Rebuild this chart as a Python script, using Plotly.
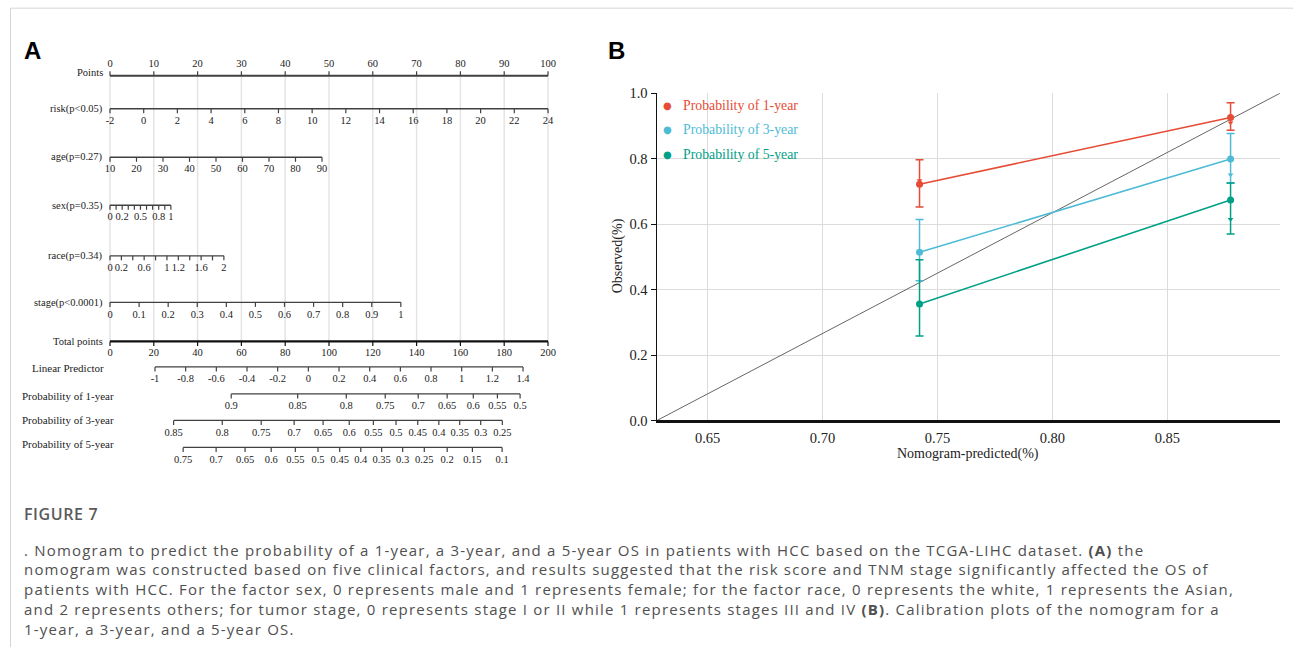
import math
import plotly.graph_objects as go

W, H = 1293, 655

# ---------------- Panel A: nomogram scales (values) ----------------
points_ticks = [0, 10, 20, 30, 40, 50, 60, 70, 80, 90, 100]
risk_ticks = [-2, 0, 2, 4, 6, 8, 10, 12, 14, 16, 18, 20, 22, 24]
age_ticks = [10, 20, 30, 40, 50, 60, 70, 80, 90]
sex_ticks = [0, 0.1, 0.2, 0.3, 0.4, 0.5, 0.6, 0.7, 0.8, 0.9, 1]
sex_labels = [0, 0.2, 0.5, 0.8, 1]
race_ticks = [0, 0.2, 0.4, 0.6, 0.8, 1, 1.2, 1.4, 1.6, 1.8, 2]
race_labels = [0, 0.2, 0.6, 1, 1.2, 1.6, 2]
stage_ticks = [0, 0.1, 0.2, 0.3, 0.4, 0.5, 0.6, 0.7, 0.8, 0.9, 1]
stage_labels = [0, 0.1, 0.2, 0.3, 0.4, 0.5, 0.6, 0.7, 0.8, 0.9, 1]
total_ticks = [0, 20, 40, 60, 80, 100, 120, 140, 160, 180, 200]
lp_ticks = [-1, -0.8, -0.6, -0.4, -0.2, 0, 0.2, 0.4, 0.6, 0.8, 1, 1.2, 1.4]
surv1_ticks = [0.9, 0.85, 0.8, 0.75, 0.7, 0.65, 0.6, 0.55, 0.5]
surv3_ticks = [0.85, 0.8, 0.75, 0.7, 0.65, 0.6, 0.55, 0.5, 0.45, 0.4, 0.35, 0.3, 0.25]
surv5_ticks = [0.75, 0.7, 0.65, 0.6, 0.55, 0.5, 0.45, 0.4, 0.35, 0.3, 0.25, 0.2, 0.15, 0.1]

variable_names = ["risk(p<0.05)", "age(p=0.27)", "sex(p=0.35)", "race(p=0.34)", "stage(p<0.0001)"]
variable_max_points = [100, 48.4, 13.9, 26.0, 66.4]
total_points_at_lp_minus1 = 20.55
total_points_per_lp = 70.02
baseline_surv = [0.8401, 0.6762, 0.5216]   # 1-, 3-, 5-year
surv_names = ["Probability of 1-year", "Probability of 3-year", "Probability of 5-year"]

# ---------------- Panel B: calibration data ----------------
nomo_pred = [0.7422, 0.8775]
obs_1y = [0.722, 0.926]
low_1y = [0.652, 0.887]
high_1y = [0.797, 0.971]
obs_3y = [0.514, 0.799]
low_3y = [0.427, 0.726]
high_3y = [0.614, 0.877]
obs_5y = [0.356, 0.674]
low_5y = [0.258, 0.570]
high_5y = [0.491, 0.726]
corr_1y = [0.733, 0.910]
corr_3y = [None, 0.751]
corr_5y = [None, 0.615]

caption_lines = [
    ". Nomogram to predict the probability of a 1-year, a 3-year, and a 5-year OS in patients with HCC based on the TCGA-LIHC dataset. <b>(A)</b> the",
    "nomogram was constructed based on five clinical factors, and results suggested that the risk score and TNM stage significantly affected the OS of",
    "patients with HCC. For the factor sex, 0 represents male and 1 represents female; for the factor race, 0 represents the white, 1 represents the Asian,",
    "and 2 represents others; for tumor stage, 0 represents stage I or II while 1 represents stages III and IV <b>(B)</b>. Calibration plots of the nomogram for a",
    "1-year, a 3-year, and a 5-year OS.",
]

# ---------------- layout helpers ----------------
PX_P0, PX_P100 = 110.0, 548.0          # pixel of 0 and 100 points
PPX = (PX_P100 - PX_P0) / 100.0
Y_OFF, Y_SCALE = 7.8, 0.975            # vertical compensation of the capture
SERIF = "Liberation Serif, Times New Roman, serif"
RED, CYAN, GREEN = "#E64B35", "#4DBBD5", "#00A087"


def px(x):
    return x / W


def py(y):
    return 1 - ((y - Y_OFF) / Y_SCALE) / H


def fmt(v):
    return ("%g" % round(v, 3))


def var_points(i, ticks):
    lo, hi = ticks[0], ticks[-1]
    return lambda v: (v - lo) / (hi - lo) * variable_max_points[i]


def lp_points(lp):
    return (total_points_at_lp_minus1 + (lp + 1) * total_points_per_lp) / 2.0


def surv_points(k):
    s0 = baseline_surv[k]
    return lambda p: lp_points(math.log(math.log(p) / math.log(s0)))


fig = go.Figure()

# vertical guide lines
gx, gy = [], []
for t in points_ticks:
    gx += [t, t, None]
    gy += [75, 341, None]
fig.add_trace(go.Scatter(x=gx, y=gy, mode="lines", line=dict(color="#e4e4e4", width=1.5),
                         hoverinfo="skip", showlegend=False, xaxis="x", yaxis="y"))

rows = []
rows.append((points_ticks, points_ticks, lambda v: v, 75.5, -1, -11.5, 1.8, "#404040"))
row_y = [108.5, 157, 205, 255.5, 302]
ticks_list = [risk_ticks, age_ticks, sex_ticks, race_ticks, stage_ticks]
labels_list = [risk_ticks, age_ticks, sex_labels, race_labels, stage_labels]
for i in range(5):
    rows.append((ticks_list[i], labels_list[i], var_points(i, ticks_list[i]), row_y[i], 1, 12.5, 1.4, "#404040"))
rows.append((total_ticks, total_ticks, lambda v: v / 2.0, 341, 1, 11.5, 2.2, "#111111"))
rows.append((lp_ticks, lp_ticks, lp_points, 366.5, 1, 12.5, 1.3, "#404040"))
surv_y = [393.5, 420, 447]
for k, tk in enumerate([surv1_ticks, surv3_ticks, surv5_ticks]):
    rows.append((tk, tk, surv_points(k), surv_y[k], 1, 12.5, 1.3, "#404040"))

for ticks, labels, f, y0, d, dy, lw, col in rows:
    xs = [f(v) for v in ticks]
    fig.add_trace(go.Scatter(x=[min(xs), max(xs)], y=[y0, y0], mode="lines", line=dict(color=col, width=lw),
                             hoverinfo="skip", showlegend=False, xaxis="x", yaxis="y"))
    tx, ty = [], []
    for x in xs:
        tx += [x, x, None]
        ty += [y0, y0 + d * 4.5, None]
    fig.add_trace(go.Scatter(x=tx, y=ty, mode="lines", line=dict(color=col, width=1.2),
                             hoverinfo="skip", showlegend=False, xaxis="x", yaxis="y"))
    fig.add_trace(go.Scatter(x=[f(v) for v in labels], y=[y0 + dy] * len(labels), mode="text",
                             text=[fmt(v) for v in labels],
                             textfont=dict(family=SERIF, size=10.5, color="#222"),
                             hoverinfo="skip", showlegend=False, xaxis="x", yaxis="y"))

annotations = []
top_names = ["Points"] + variable_names + ["Total points"]
top_name_y = [72, 108.5, 157, 206, 256, 303, 341]
for name, y in zip(top_names, top_name_y):
    annotations.append(dict(x=px(105), y=py(y), xref="paper", yref="paper", text=name, showarrow=False,
                            xanchor="right", yanchor="middle", font=dict(family=SERIF, size=10.5, color="#222")))
bot_names = ["Linear Predictor"] + surv_names
bot_name_y = [368, 396, 420, 444]
for name, y in zip(bot_names, bot_name_y):
    annotations.append(dict(x=px(68), y=py(y), xref="paper", yref="paper", text=name, showarrow=False,
                            xanchor="center", yanchor="middle", font=dict(family=SERIF, size=11, color="#222")))

# ---------------- Panel B traces ----------------
XMIN, XMAX = 0.628, 0.899
fig.add_trace(go.Scatter(x=[XMIN, XMAX], y=[0, 1], mode="lines", line=dict(color="#666", width=1),
                         hoverinfo="skip", showlegend=False, xaxis="x2", yaxis="y2"))
for obs, lo, hi, cor, col in [(obs_1y, low_1y, high_1y, corr_1y, RED),
                              (obs_3y, low_3y, high_3y, corr_3y, CYAN),
                              (obs_5y, low_5y, high_5y, corr_5y, GREEN)]:
    fig.add_trace(go.Scatter(
        x=nomo_pred, y=obs, mode="lines+markers",
        line=dict(color=col, width=1.6), marker=dict(color=col, size=7),
        error_y=dict(type="data", symmetric=False,
                     array=[h - o for h, o in zip(hi, obs)],
                     arrayminus=[o - l for o, l in zip(obs, lo)],
                     color=col, thickness=1.5, width=4),
        showlegend=False, xaxis="x2", yaxis="y2"))
    fig.add_trace(go.Scatter(x=nomo_pred, y=cor, mode="markers",
                             marker=dict(color=col, size=5, symbol="triangle-down"),
                             showlegend=False, xaxis="x2", yaxis="y2"))

# legend (manual, coloured text)
leg_y = [105, 129.5, 154]
for name, col, y in zip(surv_names, [RED, CYAN, GREEN], leg_y):
    annotations.append(dict(x=px(667), y=py(y), xref="paper", yref="paper", text="●", showarrow=False,
                            xanchor="center", yanchor="middle",
                            font=dict(family="DejaVu Sans", size=10, color=col)))
    annotations.append(dict(x=px(681), y=py(y), xref="paper", yref="paper", text=name, showarrow=False,
                            xanchor="left", yanchor="middle", font=dict(family=SERIF, size=13.8, color=col)))

annotations.append(dict(x=px(618), y=py(256), xref="paper", yref="paper", text="Observed(%)", showarrow=False,
                        textangle=-90, xanchor="center", yanchor="middle",
                        font=dict(family=SERIF, size=14, color="#222")))
annotations.append(dict(x=px(968), y=py(454), xref="paper", yref="paper", text="Nomogram-predicted(%)",
                        showarrow=False, xanchor="center", yanchor="middle",
                        font=dict(family=SERIF, size=14, color="#222")))

# panel letters
for letter, lx in [("A", 32), ("B", 616)]:
    annotations.append(dict(x=px(lx), y=py(50), xref="paper", yref="paper", text="<b>%s</b>" % letter,
                            showarrow=False, xanchor="center", yanchor="middle",
                            font=dict(family="Liberation Sans, Arial", size=24, color="#000")))

# caption
annotations.append(dict(x=px(22), y=py(514), xref="paper", yref="paper",
                        text='<span style="letter-spacing:0.6px">FIGURE 7</span>', showarrow=False,
                        xanchor="left", yanchor="middle",
                        font=dict(family="Open Sans", size=16, color="#5a5a5a", weight=600)))
cap_y0, cap_dy = 549, 19.75
for i, line in enumerate(caption_lines):
    annotations.append(dict(x=px(22), y=py(cap_y0 + i * cap_dy), xref="paper", yref="paper",
                            text='<span style="letter-spacing:1.2px">%s</span>' % line,
                            showarrow=False, xanchor="left", yanchor="middle",
                            font=dict(family="Open Sans", size=15, color="#505050")))

shapes = [
    dict(type="rect", xref="paper", yref="paper", x0=px(659), x1=px(806), y0=py(170), y1=py(94),
         fillcolor="white", line=dict(width=0), layer="between"),
    dict(type="line", xref="paper", yref="paper", x0=px(10.5), x1=px(10.5), y0=py(8), y1=0,
         line=dict(color="#d5d5d5", width=1)),
    dict(type="line", xref="paper", yref="paper", x0=px(10.5), x1=1, y0=py(8), y1=py(8),
         line=dict(color="#d5d5d5", width=1)),
]

fig.update_layout(
    width=W, height=H, margin=dict(l=0, r=0, t=0, b=0),
    paper_bgcolor="white", plot_bgcolor="rgba(0,0,0,0)", showlegend=False,
    xaxis=dict(domain=[0, 1], range=[-PX_P0 / PPX, (W - PX_P0) / PPX], visible=False, fixedrange=True),
    yaxis=dict(domain=[0, 1], range=[Y_OFF + Y_SCALE * H, Y_OFF], visible=False, fixedrange=True),
    xaxis2=dict(domain=[px(657), px(1280)], anchor="y2", range=[XMIN, XMAX],
                tickvals=[0.65, 0.70, 0.75, 0.80, 0.85], ticktext=["0.65", "0.70", "0.75", "0.80", "0.85"],
                showgrid=True, gridcolor="#dcdcdc", gridwidth=1, zeroline=False,
                showline=True, linecolor="#111", linewidth=2.5, ticks="", ticklabelstandoff=3,
                tickfont=dict(family=SERIF, size=14.5, color="#222")),
    yaxis2=dict(domain=[py(420), py(93)], anchor="x2", range=[0, 1],
                tickvals=[0, 0.2, 0.4, 0.6, 0.8, 1.0], ticktext=["0.0", "0.2", "0.4", "0.6", "0.8", "1.0"],
                showgrid=True, gridcolor="#dcdcdc", gridwidth=1, zeroline=False,
                showline=True, linecolor="#111", linewidth=1.5, ticks="outside", ticklen=5,
                tickcolor="#111", tickfont=dict(family=SERIF, size=14.5, color="#222")),
    annotations=annotations, shapes=shapes,
)

fig.write_html("out.html", config={"displayModeBar": False, "staticPlot": True},
               post_script="document.body.style.margin='0px';document.body.style.overflow='hidden';")
